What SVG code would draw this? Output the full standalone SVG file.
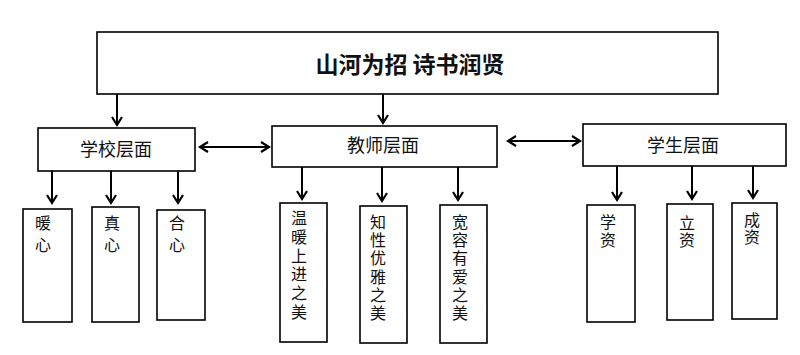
<svg xmlns="http://www.w3.org/2000/svg" width="800" height="355" viewBox="0 0 800 355">
<defs>
<marker id="ah" markerUnits="userSpaceOnUse" markerWidth="14" markerHeight="14" refX="9" refY="6" orient="auto-start-reverse" viewBox="0 0 14 12">
<path d="M1,1 L9,6 L1,11" fill="none" stroke="#000" stroke-width="2.2"/>
</marker>
<style>
.box{fill:#fff;stroke:#000;stroke-width:1.6}
.lbl{font-family:"Noto Sans CJK SC",sans-serif;font-size:18px;fill:#111;text-anchor:middle}
.v{font-family:"Noto Sans CJK SC",sans-serif;font-size:16px;fill:#111;writing-mode:vertical-rl;text-orientation:upright}
.title{font-family:"Noto Sans CJK SC",sans-serif;font-size:23px;font-weight:bold;fill:#111;text-anchor:middle}
.c{stroke:#000;stroke-width:2;fill:none}
</style>
</defs>
<rect width="800" height="355" fill="#fff"/>
<g id="connectors">
<line class="c" x1="117" y1="94" x2="117" y2="125" marker-end="url(#ah)"/>
<line class="c" x1="383" y1="94" x2="383" y2="123" marker-end="url(#ah)"/>
<line class="c" x1="200" y1="147" x2="269" y2="147" marker-start="url(#ah)" marker-end="url(#ah)"/>
<line class="c" x1="508" y1="141" x2="580" y2="141" marker-start="url(#ah)" marker-end="url(#ah)"/>
<line class="c" x1="52" y1="171" x2="52" y2="203" marker-end="url(#ah)"/>
<line class="c" x1="111" y1="171" x2="111" y2="203" marker-end="url(#ah)"/>
<line class="c" x1="178" y1="171" x2="178" y2="203" marker-end="url(#ah)"/>
<line class="c" x1="302" y1="167" x2="302" y2="199" marker-end="url(#ah)"/>
<line class="c" x1="382" y1="167" x2="382" y2="201" marker-end="url(#ah)"/>
<line class="c" x1="458" y1="167" x2="458" y2="200" marker-end="url(#ah)"/>
<line class="c" x1="617" y1="166" x2="617" y2="200" marker-end="url(#ah)"/>
<line class="c" x1="692" y1="166" x2="692" y2="199" marker-end="url(#ah)"/>
<line class="c" x1="753" y1="166" x2="753" y2="198" marker-end="url(#ah)"/>
</g>
<g id="top">
<rect class="box" x="97" y="32" width="621" height="62"/>
<text class="title" x="410" y="73">山河为招 诗书润贤</text>
</g>
<g id="school">
<rect class="box" x="38" y="128" width="157" height="43"/>
<text class="lbl" x="116" y="156">学校层面</text>
</g>
<g id="teacher">
<rect class="box" x="272" y="126" width="225" height="41"/>
<text class="lbl" x="383" y="152">教师层面</text>
</g>
<g id="student">
<rect class="box" x="583" y="124" width="203" height="42"/>
<text class="lbl" x="683" y="152">学生层面</text>
</g>
<g id="s1">
<rect class="box" x="23" y="209" width="49" height="113"/>
<text class="v" x="43" y="215" letter-spacing="6">暖心</text>
</g>
<g id="s2">
<rect class="box" x="92" y="207" width="47" height="115"/>
<text class="v" x="112" y="215" letter-spacing="6">真心</text>
</g>
<g id="s3">
<rect class="box" x="157" y="210" width="48" height="110"/>
<text class="v" x="177" y="215" letter-spacing="6">合心</text>
</g>
<g id="t1">
<rect class="box" x="280" y="203" width="47" height="139"/>
<text class="v" x="299" y="210" letter-spacing="2.8">温暖上进之美</text>
</g>
<g id="t2">
<rect class="box" x="360" y="206" width="47" height="137"/>
<text class="v" x="378" y="214" letter-spacing="2.2">知性优雅之美</text>
</g>
<g id="t3">
<rect class="box" x="440" y="205" width="47" height="138"/>
<text class="v" x="460" y="214" letter-spacing="2.2">宽容有爱之美</text>
</g>
<g id="u1">
<rect class="box" x="587" y="205" width="48" height="117"/>
<text class="v" x="608" y="214" letter-spacing="2">学资</text>
</g>
<g id="u2">
<rect class="box" x="667" y="204" width="46" height="116"/>
<text class="v" x="687" y="215" letter-spacing="1">立资</text>
</g>
<g id="u3">
<rect class="box" x="732" y="203" width="45" height="116"/>
<text class="v" x="752" y="212" letter-spacing="1">成资</text>
</g>
</svg>
